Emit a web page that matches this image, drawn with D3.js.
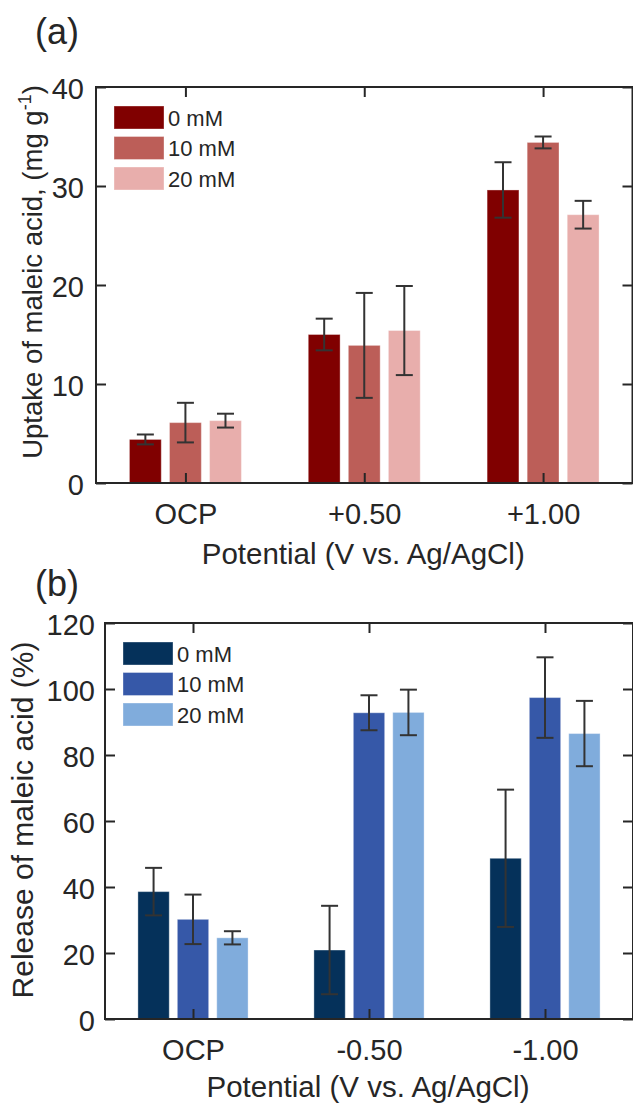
<!DOCTYPE html>
<html>
<head>
<meta charset="utf-8">
<script src="https://cdn.jsdelivr.net/npm/d3@7"></script>
<style>
  html, body { margin: 0; padding: 0; background: #fff; }
  svg { display: block; }
  text { font-family: "Liberation Sans", Arial, Helvetica, sans-serif; fill: #262626; }
</style>
</head>
<body>
<svg id="fig" width="633" height="1105"></svg>
<script>
// ---- data ----
const seriesNames = ["0 mM", "10 mM", "20 mM"];

// (a) uptake, mg g^-1, one row per concentration, columns follow the potentials
const uptakeCategories = ["OCP", "+0.50", "+1.00"];
const uptake0mM  = [4.4, 15.0, 29.6];
const uptake10mM = [6.1, 13.9, 34.4];
const uptake20mM = [6.3, 15.4, 27.1];
const uptakeErr0mM  = [0.5, 1.6, 2.8];
const uptakeErr10mM = [2.0, 5.3, 0.6];
const uptakeErr20mM = [0.7, 4.5, 1.4];
const uptakeTicks = [0, 10, 20, 30, 40];

// (b) release, %
const releaseCategories = ["OCP", "-0.50", "-1.00"];
const release0mM  = [38.6, 20.9, 48.7];
const release10mM = [30.2, 92.8, 97.4];
const release20mM = [24.6, 92.9, 86.5];
const releaseErr0mM  = [7.2, 13.4, 20.8];
const releaseErr10mM = [7.5, 5.3, 12.2];
const releaseErr20mM = [2.0, 6.9, 9.9];
const releaseTicks = [0, 20, 40, 60, 80, 100, 120];

const redPalette  = ["#800000", "#bc5e58", "#e8aeac"];
const bluePalette = ["#05315a", "#3658a8", "#80acdc"];

const svg = d3.select("#fig");
const ink = "#262626";

function panel(cfg) {
  const g = svg.append("g");
  const x = d3.scaleLinear().domain([0.5, 3.5]).range([cfg.left, cfg.right]);
  const y = d3.scaleLinear().domain([0, cfg.ymax]).range([cfg.bottom, cfg.top]);
  const catPos = cfg.categories.map((c, i) => i + 1);
  const pitch = 0.224, barW = 0.178;

  // bars
  cfg.means.forEach((vals, s) => {
    const off = (s - 1) * pitch;
    g.append("g").selectAll("rect").data(vals).join("rect")
      .attr("x", (d, i) => x(catPos[i] + off - barW / 2))
      .attr("width", x(barW) - x(0))
      .attr("y", d => y(d))
      .attr("height", d => y(0) - y(d))
      .attr("fill", cfg.colors[s])
      .attr("stroke", "#ffffff").attr("stroke-opacity", 0.35).attr("stroke-width", 1);
  });

  // error bars
  cfg.means.forEach((vals, s) => {
    const off = (s - 1) * pitch;
    const eg = g.append("g").attr("stroke", "#333333").attr("stroke-width", 2).attr("fill", "none");
    vals.forEach((m, i) => {
      const e = cfg.errs[s][i];
      const cx = x(catPos[i] + off);
      const cap = 8.5;
      eg.append("line").attr("x1", cx).attr("x2", cx).attr("y1", y(m - e)).attr("y2", y(m + e));
      eg.append("line").attr("x1", cx - cap).attr("x2", cx + cap).attr("y1", y(m + e)).attr("y2", y(m + e));
      eg.append("line").attr("x1", cx - cap).attr("x2", cx + cap).attr("y1", y(m - e)).attr("y2", y(m - e));
    });
  });

  // axes (ticks point inwards, mirrored on top/right)
  const styleAxis = sel => {
    sel.select(".domain").remove();
    sel.selectAll(".tick line").attr("stroke", ink).attr("stroke-width", 2);
    sel.selectAll(".tick text").attr("fill", ink);
  };
  const fmtCat = i => cfg.categories[i - 1];

  g.append("g").attr("transform", `translate(0,${cfg.bottom})`)
    .call(d3.axisBottom(x).tickValues(catPos).tickFormat(fmtCat).tickSizeInner(-10).tickSizeOuter(0).tickPadding(20.5))
    .call(styleAxis)
    .selectAll("text").attr("font-size", 29).attr("font-family", '"Liberation Sans", Arial, sans-serif');
  g.append("g").attr("transform", `translate(0,${cfg.top})`)
    .call(d3.axisTop(x).tickValues(catPos).tickFormat("").tickSizeInner(-10).tickSizeOuter(0))
    .call(styleAxis);
  g.append("g").attr("transform", `translate(${cfg.left},0)`)
    .call(d3.axisLeft(y).tickValues(cfg.ticks).tickFormat(d3.format("d")).tickSizeInner(-10).tickSizeOuter(0).tickPadding(cfg.ytickPad))
    .call(styleAxis)
    .selectAll("text").attr("font-size", 29).attr("dy", "0.41em").attr("font-family", '"Liberation Sans", Arial, sans-serif');
  g.append("g").attr("transform", `translate(${cfg.right},0)`)
    .call(d3.axisRight(y).tickValues(cfg.ticks).tickFormat("").tickSizeInner(-10).tickSizeOuter(0))
    .call(styleAxis);

  // box
  g.append("rect")
    .attr("x", cfg.left).attr("y", cfg.top)
    .attr("width", cfg.right - cfg.left).attr("height", cfg.bottom - cfg.top)
    .attr("fill", "none").attr("stroke", ink).attr("stroke-width", 2);

  // legend
  const lg = g.append("g");
  seriesNames.forEach((name, s) => {
    const ly = cfg.legendTop + s * 30.5;
    lg.append("rect").attr("x", cfg.left + 18).attr("y", ly)
      .attr("width", 50).attr("height", 23)
      .attr("fill", cfg.colors[s])
      .attr("stroke", "#ffffff").attr("stroke-opacity", 0.35).attr("stroke-width", 1);
    lg.append("text").attr("x", cfg.left + 72).attr("y", ly + 11.5 + 8)
      .attr("font-size", 22).text(name);
  });

  // axis titles
  g.append("text")
    .attr("x", (cfg.left + cfg.right) / 2 - 1).attr("y", cfg.xTitleY)
    .attr("text-anchor", "middle").attr("font-size", 29.5)
    .text("Potential (V vs. Ag/AgCl)");

  const yt = g.append("text")
    .attr("transform", `translate(${cfg.yTitleX},${cfg.yTitleY}) rotate(-90)`)
    .attr("text-anchor", "middle").attr("font-size", cfg.yTitleSize);
  cfg.yTitle(yt);

  // panel letter
  g.append("text").attr("x", 35).attr("y", cfg.letterY)
    .attr("font-family", '"Noto Sans", "Open Sans", sans-serif').attr("font-size", 36)
    .text(cfg.letter);
}

panel({
  letter: "(a)", letterY: 43.5,
  left: 96, right: 632.5, top: 87, bottom: 483,
  ymax: 40, ticks: uptakeTicks, ytickPad: 12,
  categories: uptakeCategories,
  means: [uptake0mM, uptake10mM, uptake20mM],
  errs: [uptakeErr0mM, uptakeErr10mM, uptakeErr20mM],
  colors: redPalette,
  legendTop: 106,
  xTitleY: 563.5,
  yTitleX: 42, yTitleY: 272, yTitleSize: 27.5,
  yTitle: t => {
    t.append("tspan").text("Uptake of maleic acid, (mg g");
    t.append("tspan").attr("font-size", 18).attr("dy", -11).text("-1");
    t.append("tspan").attr("dy", 11).text(")");
  }
});

panel({
  letter: "(b)", letterY: 596,
  left: 105, right: 633, top: 623, bottom: 1019,
  ymax: 120, ticks: releaseTicks, ytickPad: 10,
  categories: releaseCategories,
  means: [release0mM, release10mM, release20mM],
  errs: [releaseErr0mM, releaseErr10mM, releaseErr20mM],
  colors: bluePalette,
  legendTop: 642,
  xTitleY: 1097,
  yTitleX: 33, yTitleY: 820, yTitleSize: 30,
  yTitle: t => t.text("Release of maleic acid (%)")
});
</script>
</body>
</html>
